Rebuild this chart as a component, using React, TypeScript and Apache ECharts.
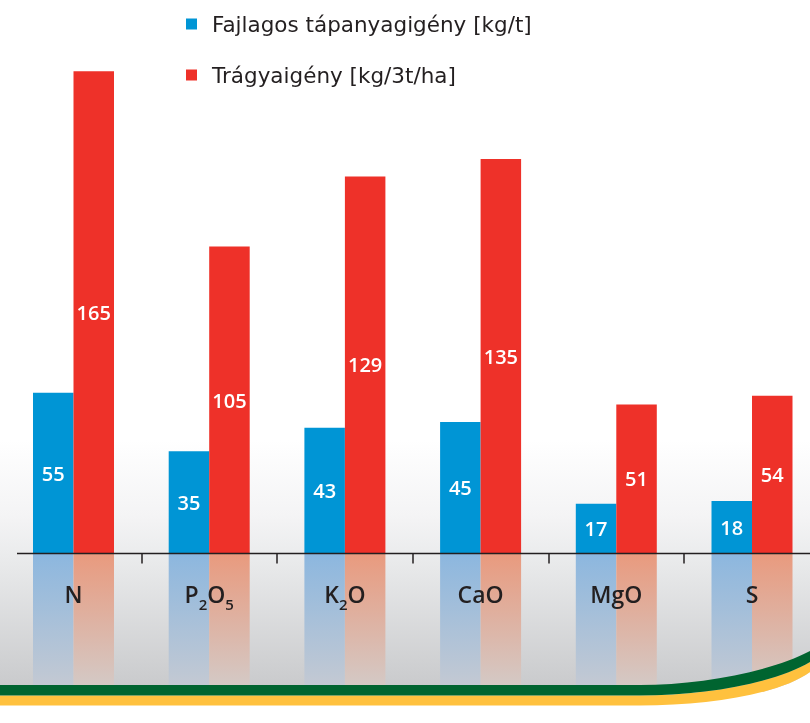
import React, { useEffect, useRef } from 'react';
import * as echarts from 'echarts';

const categories = ['N', 'P2O5', 'K2O', 'CaO', 'MgO', 'S'];
const specificNeed = [55, 35, 43, 45, 17, 18];
const fertilizerNeed = [165, 105, 129, 135, 51, 54];
const seriesNames = ['Fajlagos tápanyagigény [kg/t]', 'Trágyaigény [kg/3t/ha]'];
const reflectionDepth = 45;

const FONT = "'Open Sans', 'Noto Sans', sans-serif";
const LEGEND_FONT = "'DejaVu Sans', 'Open Sans', sans-serif";
const DARK = '#231f20';

const GREEN_D = 'M0 685 L640 685 C700 685 770 672 810 651 L810 662 C775 683 705 695.5 640 695.5 L0 695.5 Z';
const YELLOW_D = 'M0 695.5 L640 695.5 C705 695.5 775 683 810 662 L810 672 C780 694 710 705.5 640 705.5 L0 705.5 Z';
const WHITE_D = 'M0 705 L640 705 C710 705 780 694 810 672 L810 723 L0 723 Z';

let registered = false;
function registerShapes() {
  if (registered) return;
  registered = true;
  echarts.graphic.registerShape('greenBand', echarts.graphic.extendPath(GREEN_D, {}));
  echarts.graphic.registerShape('yellowBand', echarts.graphic.extendPath(YELLOW_D, {}));
  echarts.graphic.registerShape('whiteArea', echarts.graphic.extendPath(WHITE_D, {}));
}

const formatCategory = (v: string) =>
  v
    .split(/(\d)/)
    .filter(Boolean)
    .map((p) => (/\d/.test(p) ? `{s|${p}}` : `{a|${p}}`))
    .join('');

const valueLabel = {
  show: true,
  position: 'inside',
  color: '#ffffff',
  fontSize: 20,
  fontWeight: 600,
  fontFamily: FONT,
};

const gridX = { left: 5.65, right: -9.85, outerBoundsMode: 'none', containLabel: false };

export default function App() {
  const ref = useRef<HTMLDivElement>(null);
  useEffect(() => {
    if (!ref.current) return;
    registerShapes();
    const chart = echarts.init(ref.current, undefined, { renderer: 'svg' });
    chart.setOption({
      animation: false,
      grid: [
        { ...gridX, top: 27.4, bottom: 169.5 },
        { ...gridX, top: 553.5, bottom: 38 },
      ],
      legend: {
        data: seriesNames,
        orient: 'vertical',
        left: 186,
        top: 11,
        padding: 0,
        icon: 'rect',
        itemWidth: 11,
        itemHeight: 11,
        itemGap: 25,
        textStyle: {
          color: DARK,
          fontSize: 21.5,
          fontFamily: LEGEND_FONT,
          lineHeight: 26,
          padding: [0, 0, 0, 10],
        },
        selectedMode: false,
      },
      xAxis: [
        {
          type: 'category',
          gridIndex: 0,
          data: categories,
          z: 10,
          axisLine: { show: true, lineStyle: { color: 'rgba(0,0,0,0)', width: 0 } },
          axisTick: {
            show: true,
            length: 10,
            interval: (i: number) => i !== 0,
            lineStyle: { color: DARK, width: 1.5 },
          },
          axisLabel: {
            margin: 22,
            formatter: formatCategory,
            rich: {
              a: { fontSize: 23, color: DARK, fontFamily: FONT, lineHeight: 36, fontWeight: 600 },
              s: { fontSize: 15, color: DARK, fontFamily: FONT, lineHeight: 36, verticalAlign: 'bottom', fontWeight: 600 },
            },
          },
        },
        { type: 'category', gridIndex: 1, data: categories, show: false },
      ],
      yAxis: [
        { type: 'value', gridIndex: 0, min: 0, max: 180, show: false },
        { type: 'value', gridIndex: 1, min: 0, max: reflectionDepth, inverse: true, show: false },
      ],
      series: [
        {
          name: seriesNames[0],
          type: 'bar',
          data: specificNeed,
          barWidth: 40.5,
          barGap: '0%',
          itemStyle: { color: '#0095d5' },
          label: valueLabel,
          silent: true,
        },
        {
          name: seriesNames[1],
          type: 'bar',
          data: fertilizerNeed,
          barWidth: 40.5,
          barGap: '0%',
          itemStyle: { color: '#ee3129' },
          label: valueLabel,
          silent: true,
        },
        {
          name: 'reflection-blue',
          type: 'bar',
          xAxisIndex: 1,
          yAxisIndex: 1,
          data: categories.map(() => reflectionDepth),
          barWidth: 40.5,
          barGap: '0%',
          silent: true,
          itemStyle: {
            color: new echarts.graphic.LinearGradient(0, 0, 0, 1, [
              { offset: 0, color: '#8cb7df' },
              { offset: 1, color: '#c3c9d3' },
            ]),
          },
        },
        {
          name: 'reflection-red',
          type: 'bar',
          xAxisIndex: 1,
          yAxisIndex: 1,
          data: categories.map(() => reflectionDepth),
          barWidth: 40.5,
          barGap: '0%',
          silent: true,
          itemStyle: {
            color: new echarts.graphic.LinearGradient(0, 0, 0, 1, [
              { offset: 0, color: '#e99a7e' },
              { offset: 1, color: '#d4c9c5' },
            ]),
          },
        },
      ],
    });
    const y0 = chart.convertToPixel({ yAxisIndex: 0 }, 0) as number;
    chart.setOption({
      graphic: [
        {
          type: 'rect',
          z: -1,
          silent: true,
          shape: { x: 0, y: 440, width: 810, height: 252 },
          style: {
            fill: new echarts.graphic.LinearGradient(0, 0, 0, 1, [
              { offset: 0, color: '#ffffff' },
              { offset: 0.3, color: '#f4f4f5' },
              { offset: 0.45, color: '#ebeced' },
              { offset: 1, color: '#c8c9cb' },
            ]),
          },
        },
        {
          type: 'line',
          z: 5,
          silent: true,
          shape: { x1: 17, y1: y0, x2: 810, y2: y0 },
          style: { stroke: DARK, lineWidth: 1.5 },
        },
        { type: 'whiteArea', z: 98, x: 0, y: 0, silent: true, style: { fill: '#ffffff' } },
        { type: 'yellowBand', z: 99, x: 0, y: 0, silent: true, style: { fill: '#ffc13e' } },
        { type: 'greenBand', z: 100, x: 0, y: 0, silent: true, style: { fill: '#006430' } },
      ],
    });
    return () => chart.dispose();
  }, []);
  return (
    <div
      ref={ref}
      style={{ position: 'fixed', left: 0, top: 0, width: 810, height: 723 }}
    />
  );
}
